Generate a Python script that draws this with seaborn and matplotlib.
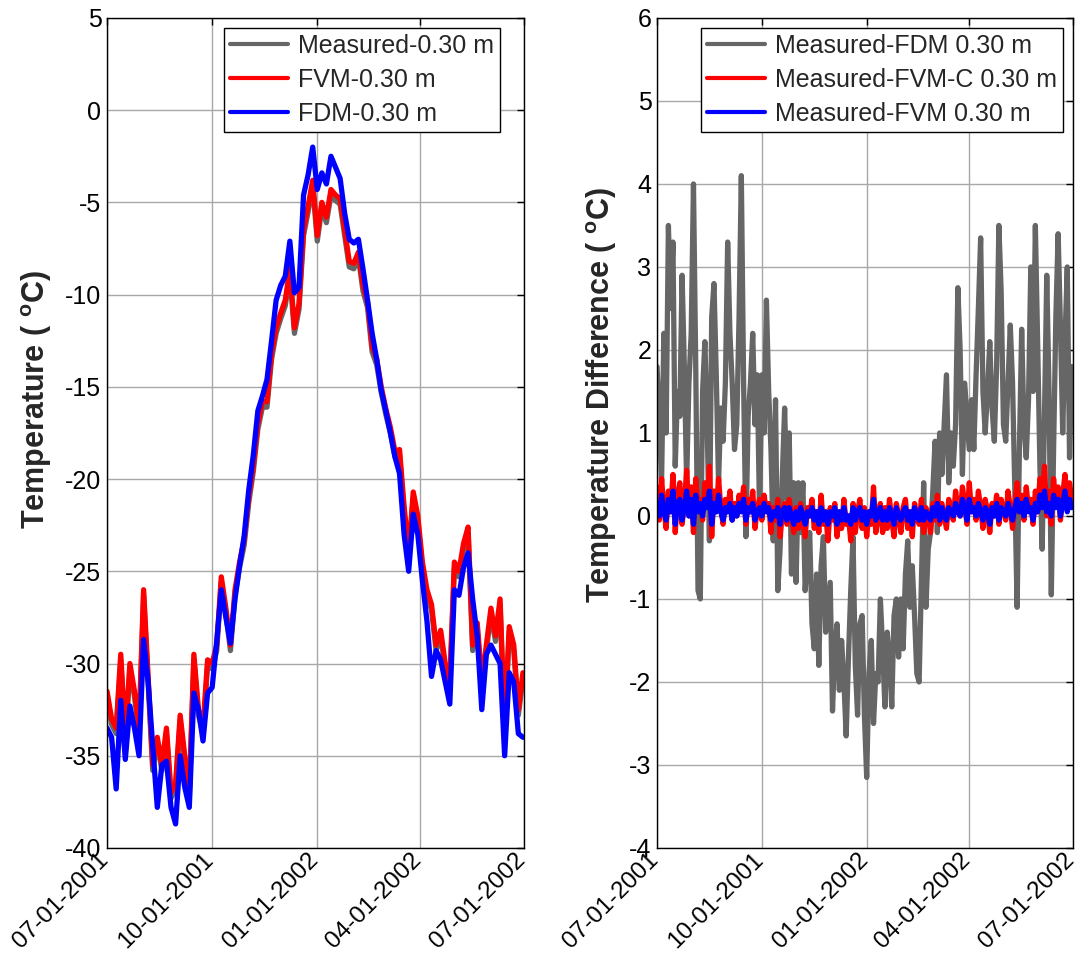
import matplotlib
matplotlib.use("Agg")
import numpy as np
import pandas as pd
import matplotlib.pyplot as plt
import matplotlib.dates as mdates
import matplotlib.transforms as mtransforms
import seaborn as sns

# ---- soil temperature at 0.30 m depth, sampled every 4 days from 07-01-2001 ----
measured_030 = [-31.8, -33.3, -33.8, -29.8, -34.3, -30.3, -31.8, -33.8, -26.3, -31.1,
                -35.8, -34.3, -35.8, -33.8, -37.3, -36.8, -33.1, -35.3, -37.3, -29.8,
                -32.8, -33.8, -30.1, -30.3, -29.3, -25.6, -27.3, -29.3, -26.3, -24.8,
                -23.6, -21.3, -19.6, -17.3, -16.1, -16.1, -13.5, -12.1, -11.3, -10.6,
                -8.9, -12.1, -10.8, -6.8, -5.5, -4.1, -7.1, -5.3, -6.1, -4.6,
                -4.9, -5.1, -6.8, -8.5, -8.6, -8.0, -9.8, -10.7, -13.1, -13.8,
                -15.3, -16.5, -17.5, -18.8, -18.7, -21.8, -24.3, -21.0, -22.3, -24.8,
                -26.3, -27.1, -29.3, -28.5, -30.3, -31.3, -24.8, -25.3, -23.8, -22.9,
                -29.3, -28.1, -31.3, -29.3, -27.3, -28.8, -26.8, -33.8, -28.3, -29.3,
                -32.8, -30.8]

fvm_030 = [-31.5, -33.0, -33.5, -29.5, -34.0, -30.0, -31.5, -33.5, -26.0, -30.8,
           -35.5, -34.0, -35.5, -33.5, -37.0, -36.5, -32.8, -35.0, -37.0, -29.5,
           -32.5, -33.5, -29.8, -30.0, -29.0, -25.3, -27.0, -29.0, -26.0, -24.5,
           -23.3, -21.0, -19.3, -17.0, -15.8, -15.8, -13.2, -11.8, -11.0, -10.3,
           -8.6, -11.8, -10.5, -6.5, -5.2, -3.8, -6.8, -5.0, -5.8, -4.3,
           -4.6, -4.8, -6.5, -8.2, -8.3, -7.7, -9.5, -10.4, -12.8, -13.5,
           -15.0, -16.2, -17.2, -18.5, -18.4, -21.5, -24.0, -20.7, -22.0, -24.5,
           -26.0, -26.8, -29.0, -28.2, -30.0, -31.0, -24.5, -25.0, -23.5, -22.6,
           -29.0, -27.8, -31.0, -29.0, -27.0, -28.5, -26.5, -33.5, -28.0, -29.0,
           -32.5, -30.5]

fdm_030 = [-33.5, -34.0, -36.8, -32.0, -35.2, -32.3, -33.5, -35.0, -28.7, -31.0,
           -34.5, -37.8, -35.5, -35.3, -37.8, -38.7, -35.0, -36.7, -37.8, -31.6,
           -32.5, -34.2, -31.6, -31.3, -28.8, -26.0, -27.5, -28.9, -26.5, -24.7,
           -23.1, -20.6, -18.7, -16.3, -15.5, -14.6, -12.5, -10.3, -9.5, -9.0,
           -7.1, -9.9, -9.6, -4.6, -3.5, -2.0, -4.3, -3.4, -4.0, -2.5,
           -3.1, -3.7, -5.6, -7.0, -7.2, -7.0, -8.6, -10.3, -12.1, -13.5,
           -15.2, -16.3, -17.5, -18.8, -19.7, -23.0, -25.0, -21.9, -23.0, -25.5,
           -27.7, -30.7, -29.3, -29.8, -31.0, -32.2, -26.0, -26.3, -24.8, -24.0,
           -26.5, -28.5, -32.5, -29.5, -29.0, -29.5, -30.0, -35.0, -30.5, -31.0,
           -33.8, -34.0]

# ---- temperature differences, sampled every 2 days from 07-01-2001 ----
diff_fdm = [1.8, 1.2, 0.4, 2.2, 1.0, 3.5, 2.5, 3.3, 0.6, 1.5,
            1.2, 2.9, 1.8, 0.4, 1.6, 2.2, 4.0, 1.8, -0.9, -1.0,
            1.5, 2.1, 1.1, -0.3, 2.4, 2.8, 1.7, 0.4, 1.3, 0.9,
            1.6, 3.3, 2.2, 1.6, 0.8, 1.1, 2.4, 4.1, 1.6, -0.25,
            1.2, 1.6, 2.2, 1.1, 1.7, 0.0, 1.7, 1.0, 2.6, 1.5,
            0.8, -0.3, 1.4, -0.9, -0.4, 0.5, 1.3, 0.2, 1.0, -0.7,
            0.4, -0.8, 0.4, -0.2, 0.4, -0.9, -0.5, -0.2, -1.3, -1.6,
            -0.7, -1.8, -0.6, -0.25, -1.4, -1.1, -0.8, -2.35, -1.6, -1.3,
            -2.1, -1.5, -2.0, -2.65, -1.7, -0.9, -0.25, -1.8, -2.4, -1.3,
            -1.2, -2.4, -3.15, -1.9, -1.5, -2.5, -1.9, -2.0, -1.0, -1.6,
            -2.3, -1.4, -1.7, -2.3, -1.2, -1.0, -1.7, -1.0, -1.6, -0.7,
            -0.3, -1.1, -0.6, -1.2, -1.9, -2.0, -0.8, 0.4, -1.1, -0.4,
            -0.2, 0.3, 0.9, -0.2, 1.0, 0.5, 1.1, 1.7, 0.4, 1.0,
            0.6, 1.1, 2.75, 2.0, 0.5, 1.6, 1.2, 0.8, 1.4, 0.8,
            1.7, 2.5, 3.35, 1.5, 1.0, 1.5, 2.1, 1.3, 0.9, 1.8,
            3.5, 2.7, 1.1, 0.9, 1.6, 2.3, 1.6, 0.3, -1.1, 0.8,
            2.25, 1.1, 0.7, 1.4, 3.0, 1.5, 3.5, 2.1, 0.6, -0.4,
            1.2, 2.9, 1.5, -0.95, 0.8, 2.4, 3.4, 2.3, 1.0, 2.1,
            3.0, 0.7, 1.8]

diff_fvm_c = [0.35, -0.05, 0.45, 0.10, -0.15, 0.30, 0.05, 0.50, -0.20, 0.25,
              0.40, -0.10, 0.15, 0.55, 0.00, 0.35, -0.20, 0.45, 0.10, 0.20,
              -0.05, 0.40, 0.15, 0.60, -0.25, 0.30, 0.05, 0.45, 0.10, -0.10,
              0.20, 0.05, 0.30, -0.05, 0.15, 0.00, 0.25, 0.10, 0.35, -0.10,
              0.20, 0.05, 0.30, -0.15, 0.10, 0.20, -0.05, 0.25, 0.05, 0.15,
              -0.20, 0.10, -0.05, 0.20, -0.25, 0.05, 0.15, -0.10, 0.20, 0.00,
              -0.20, 0.10, -0.15, 0.15, -0.05, -0.25, 0.10, 0.00, 0.20, -0.15,
              0.05, -0.20, 0.25, -0.10, 0.05, -0.30, 0.10, -0.05, 0.15, -0.25,
              0.05, -0.15, 0.20, -0.10, 0.00, -0.30, 0.15, -0.20, 0.05, 0.20,
              -0.15, 0.10, -0.25, 0.05, -0.10, 0.35, -0.20, 0.00, 0.15, -0.20,
              0.10, -0.15, 0.20, -0.05, -0.25, 0.15, 0.00, -0.20, 0.10, 0.20,
              -0.15, 0.05, -0.25, 0.15, 0.00, -0.10, 0.20, -0.20, 0.10, 0.00,
              -0.20, 0.15, -0.05, 0.25, -0.10, 0.15, 0.00, -0.15, 0.20, 0.05,
              -0.05, 0.30, 0.10, 0.00, 0.35, 0.15, -0.10, 0.40, 0.05, 0.20,
              -0.05, 0.30, 0.10, -0.15, 0.20, 0.05, -0.20, 0.15, 0.00, 0.25,
              -0.10, 0.20, 0.05, -0.05, 0.30, 0.10, -0.15, 0.15, 0.40, 0.05,
              0.25, -0.05, 0.35, 0.10, 0.20, -0.10, 0.30, 0.05, 0.45, 0.15,
              0.60, 0.00, 0.30, -0.10, 0.45, 0.15, 0.35, -0.05, 0.25, 0.50,
              0.10, 0.40, 0.20]

diff_fvm = [0.15, 0.00, 0.25, 0.05, -0.05, 0.20, 0.05, 0.30, -0.10, 0.15,
            0.20, -0.05, 0.10, 0.30, 0.00, 0.20, -0.10, 0.25, 0.05, 0.15,
            0.00, 0.20, 0.10, 0.30, -0.10, 0.15, 0.05, 0.25, 0.05, -0.05,
            0.10, 0.05, 0.15, -0.05, 0.10, 0.00, 0.15, 0.05, 0.20, -0.05,
            0.10, 0.05, 0.15, -0.05, 0.05, 0.10, 0.00, 0.15, 0.05, 0.10,
            -0.05, 0.05, 0.00, 0.10, -0.10, 0.05, 0.10, -0.05, 0.10, 0.00,
            -0.10, 0.05, -0.05, 0.10, 0.00, -0.10, 0.05, 0.00, 0.10, -0.05,
            0.05, -0.10, 0.10, -0.05, 0.05, -0.10, 0.05, 0.00, 0.10, -0.10,
            0.05, -0.05, 0.10, -0.05, 0.00, -0.10, 0.10, -0.05, 0.05, 0.10,
            -0.05, 0.05, -0.10, 0.05, 0.00, 0.20, -0.05, 0.00, 0.10, -0.05,
            0.05, -0.05, 0.10, 0.00, -0.10, 0.10, 0.00, -0.05, 0.05, 0.10,
            -0.05, 0.05, -0.10, 0.10, 0.00, -0.05, 0.10, -0.05, 0.05, 0.00,
            -0.05, 0.10, 0.00, 0.15, -0.05, 0.10, 0.00, -0.05, 0.10, 0.05,
            0.00, 0.15, 0.05, 0.00, 0.20, 0.10, -0.05, 0.20, 0.05, 0.10,
            0.00, 0.15, 0.05, -0.05, 0.10, 0.05, -0.10, 0.10, 0.00, 0.15,
            -0.05, 0.10, 0.05, 0.00, 0.15, 0.05, -0.05, 0.10, 0.20, 0.05,
            0.15, 0.00, 0.20, 0.05, 0.10, -0.05, 0.15, 0.05, 0.25, 0.10,
            0.30, 0.05, 0.15, 0.00, 0.25, 0.10, 0.20, 0.00, 0.15, 0.30,
            0.05, 0.20, 0.10]

date_ticks = ["2001-07-01", "2001-10-01", "2002-01-01", "2002-04-01", "2002-07-01"]
temp_ticks = [-40, -35, -30, -25, -20, -15, -10, -5, 0, 5]
diff_ticks = [-4, -3, -2, -1, 0, 1, 2, 3, 4, 5, 6]

GRAY, RED, BLUE = "#666666", "#ff0000", "#0000ff"

sns.set_style("white")
plt.rcParams["font.family"] = ["Liberation Sans", "DejaVu Sans"]
plt.rcParams["axes.unicode_minus"] = False
plt.rcParams["mathtext.fontset"] = "custom"
plt.rcParams["mathtext.rm"] = "Liberation Sans"
plt.rcParams["mathtext.bf"] = "Liberation Sans:bold"

dates4 = pd.date_range(date_ticks[0], periods=len(fvm_030), freq="4D")
dates2 = pd.date_range(date_ticks[0], periods=len(diff_fdm), freq="2D")

fig = plt.figure(figsize=(10.79, 9.6), dpi=100)
ax1 = fig.add_axes([0.0992, 0.1167, 0.3865, 0.8646])
ax2 = fig.add_axes([0.6089, 0.1167, 0.3855, 0.8646])

LW = 3.8
sns.lineplot(x=dates4, y=measured_030, ax=ax1, color=GRAY, lw=LW, label="Measured-0.30 m")
sns.lineplot(x=dates4, y=fvm_030, ax=ax1, color=RED, lw=LW, label="FVM-0.30 m")
sns.lineplot(x=dates4, y=fdm_030, ax=ax1, color=BLUE, lw=LW, label="FDM-0.30 m")

sns.lineplot(x=dates2, y=diff_fdm, ax=ax2, color=GRAY, lw=LW, label="Measured-FDM 0.30 m")
sns.lineplot(x=dates2, y=diff_fvm_c, ax=ax2, color=RED, lw=LW, label="Measured-FVM-C 0.30 m")
sns.lineplot(x=dates2, y=diff_fvm, ax=ax2, color=BLUE, lw=LW, label="Measured-FVM 0.30 m")

FS = 18
tick_dates = pd.to_datetime(date_ticks)
label_shift = mtransforms.ScaledTranslation(-1.5 / 72, -2.5 / 72, fig.dpi_scale_trans)
panels = [
    (ax1, temp_ticks, r"Temperature ( $^{\mathbf{o}}$C)", (-0.128, 0.54), (0.942, 0.988)),
    (ax2, diff_ticks, r"Temperature Difference ( $^{\mathbf{o}}$C)", (-0.092, 0.546), (0.976, 0.988)),
]
for ax, yt, ylab, lab_xy, leg_xy in panels:
    ax.set_xlim(tick_dates[0], tick_dates[-1])
    ax.set_ylim(yt[0], yt[-1])
    ax.set_yticks(yt)
    ax.set_xticks(tick_dates)
    ax.xaxis.set_major_formatter(mdates.DateFormatter("%m-%d-%Y"))
    ax.grid(True, color="#a8a8a8", lw=1.0)
    ax.set_axisbelow(True)
    ax.tick_params(direction="in", top=True, right=True, length=5, width=1,
                   labelsize=FS, colors="black", pad=4)
    for lbl in ax.get_xticklabels():
        lbl.set_rotation(45)
        lbl.set_ha("right")
        lbl.set_va("center")
        lbl.set_rotation_mode("anchor")
        lbl.set_fontsize(17.5)
        lbl.set_transform(lbl.get_transform() + label_shift)
    for sp in ax.spines.values():
        sp.set_visible(True)
        sp.set_color("black")
        sp.set_linewidth(1.0)
    ax.set_xlabel("")
    ax.set_ylabel(ylab, fontsize=22, fontweight="bold")
    ax.yaxis.set_label_coords(*lab_xy)
    leg = ax.legend(loc="upper right", bbox_to_anchor=leg_xy, fontsize=FS,
                    frameon=True, fancybox=False, edgecolor="black", framealpha=1,
                    handlelength=2.3, borderpad=0.25, labelspacing=0.4,
                    handletextpad=0.4, borderaxespad=0.0)
    leg.get_frame().set_linewidth(1.0)
    for h in leg.get_lines():
        h.set_linewidth(3.0)

fig.savefig("out.png", dpi=100)
